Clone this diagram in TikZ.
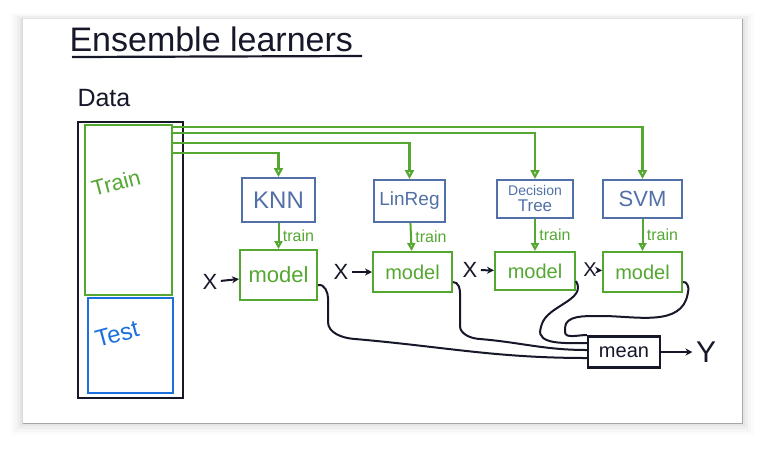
\documentclass[tikz,border=0pt]{standalone}
\usepackage{fontspec}
\setmainfont{Liberation Sans}
\usetikzlibrary{arrows.meta}
\definecolor{boardgreen}{RGB}{84,168,50}
\definecolor{algoblue}{RGB}{82,112,168}
\definecolor{testblue}{RGB}{28,112,222}
\definecolor{ink}{RGB}{22,24,42}
\begin{document}
\begin{tikzpicture}[x=1pt,y=-1pt]
        \tikzstyle{algo}=[draw=algoblue,line width=2pt,text=algoblue,inner sep=1pt,align=center]
        \tikzstyle{model}=[draw=boardgreen,line width=2pt,text=boardgreen,inner sep=1pt]
        \tikzstyle{feed}=[draw=boardgreen,line width=2.2pt,-{Triangle[open,length=9pt,width=9pt]}]
        \tikzstyle{edge}=[draw=boardgreen,line width=2pt,->,>={Triangle[open,length=8pt,width=8pt]}]
        \tikzstyle{wire}=[draw=ink,line width=2pt,rounded corners=2pt]
        \tikzstyle{input}=[draw=ink,line width=2pt,-{Stealth[length=7pt,width=7pt]}]
        \useasboundingbox (0,0) rectangle (765,451);
        \foreach \s/\o in {12/0.015,9/0.02,6/0.03,3/0.04,1/0.06}
                \fill[black,opacity=\o] (23-\s,19-\s/2) rectangle (742+\s,423+\s);
        \fill[white] (23,19) rectangle (742,423);
        \draw[black!35,line width=1pt] (23,423) -- (742,423) -- (742,19);
        \begin{scope}
                \node[anchor=west,text=ink,font=\fontsize{34}{36}\selectfont] (title) at (66,39) {Ensemble learners};
                \draw[ink,line width=2.2pt] (72,57) -- (362,56);
                \node[anchor=west,text=ink,font=\fontsize{25}{27}\selectfont] (datalabel) at (74,98) {Data};
                \node[draw=ink,line width=2.4pt,minimum width=105,minimum height=276] (data) at (130.5,260) {};
                \node[draw=boardgreen,line width=2.2pt,minimum width=87,minimum height=170] (train) at (128.5,210) {};
                \node[draw=testblue,line width=2.2pt,minimum width=85,minimum height=95] (test) at (130.5,345.5) {};
                \node[text=boardgreen,rotate=15,font=\fontsize{22}{24}\selectfont] (trainlabel) at (116,183) {Train};
                \node[text=testblue,rotate=15,font=\fontsize{24}{26}\selectfont] (testlabel) at (117,334) {Test};
                \node[algo,minimum width=73,minimum height=44,font=\fontsize{24}{26}\selectfont] (a1) at (278.5,200) {KNN};
                \node[algo,minimum width=71,minimum height=42,font=\fontsize{19}{21}\selectfont] (a2) at (409.5,201) {LinReg};
                \node[algo,minimum width=76,minimum height=38,font=\fontsize{17}{16}\selectfont] (a3) at (535,199) {{\fontsize{14}{14}\selectfont Decision}\\Tree};
                \node[algo,minimum width=79,minimum height=38,font=\fontsize{22}{24}\selectfont] (a4) at (642.5,199) {SVM};
                \node[model,minimum width=77,minimum height=50,font=\fontsize{22}{24}\selectfont] (m1) at (278.5,275) {model};
                \node[model,minimum width=79,minimum height=40,font=\fontsize{20}{22}\selectfont] (m2) at (412.5,272) {model};
                \node[model,minimum width=80,minimum height=38,font=\fontsize{20}{22}\selectfont] (m3) at (535,271) {model};
                \node[model,minimum width=79,minimum height=40,font=\fontsize{20}{22}\selectfont] (m4) at (642.5,272) {model};
                \node[draw=ink,line width=2.2pt,minimum width=72,minimum height=31,text=ink,font=\fontsize{20}{22}\selectfont,inner sep=1pt] (mean) at (624,352) {mean};
                \node[text=ink,font=\fontsize{30}{32}\selectfont] (y) at (706,352) {Y};
                \node[text=ink,font=\fontsize{22}{24}\selectfont] (x1) at (210,282) {X};
                \node[text=ink,font=\fontsize{22}{24}\selectfont] (x2) at (341,272) {X};
                \node[text=ink,font=\fontsize{22}{24}\selectfont] (x3) at (470,270) {X};
                \node[text=ink,font=\fontsize{20}{22}\selectfont] (x4) at (590,270) {X};
                \path[feed] (train.east |- 0,127) -| (a4.north);
                \path[feed] (train.east |- 0,133) -| (a3.north);
                \path[feed] (train.east |- 0,143) -| (a2.north);
                \path[feed] (train.east |- 0,153) -| (a1.north);
                \path[edge] (a1) edge node[right,text=boardgreen,font=\fontsize{16}{18}\selectfont] {train} (m1);
                \path[edge] (a2) edge node[right,text=boardgreen,font=\fontsize{16}{18}\selectfont] {train} (m2);
                \path[edge] (a3) edge node[right,text=boardgreen,font=\fontsize{16}{18}\selectfont] {train} (m3);
                \path[edge] (a4) edge node[right,text=boardgreen,font=\fontsize{16}{18}\selectfont] {train} (m4);
                \draw[input] (x1) -- (m1);
                \draw[input] (x2) -- (m2);
                \draw[input] (x3) -- (m3);
                \draw[input] (x4) -- (m4);
                \draw[wire] ([yshift=-10pt]m1.east) to[out=10,in=90] (328,300) -- (328,320) to[out=-90,in=175] (355,339) to[out=-5,in=180] ([yshift=-6pt]mean.west);
                \draw[wire] ([yshift=-10pt]m2.east) to[out=0,in=90] (460,295) -- (460,324) to[out=-90,in=175] (480,339) to[out=-5,in=180] ([yshift=2pt]mean.west);
                \draw[wire] ([yshift=-10pt]m3.east) to[out=-60,in=75] (541,327) to[out=-105,in=180] ([yshift=9pt]mean.west);
                \draw[wire] ([yshift=-10pt]m4.east) to[out=10,in=80] (688,292) to[out=-100,in=0] (600,316) to[out=180,in=90] (565,330) to[out=-90,in=180] ([yshift=17pt]mean.west);
                \draw[input] (mean) -- (y);
        \end{scope}
\end{tikzpicture}
\end{document}
